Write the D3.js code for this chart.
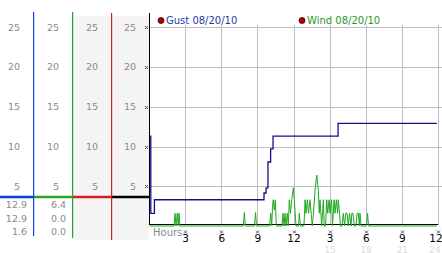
<!DOCTYPE html>
<html>
<head>
<meta charset="utf-8">
<script src="https://cdn.jsdelivr.net/npm/d3@7"></script>
<style>
  body { margin: 0; background: #fff; }
  svg { display: block; font-family: "DejaVu Sans", sans-serif; }
</style>
</head>
<body>
<div id="chart"></div>
<script>
// scale ticks
const yTicks = [5, 10, 15, 20, 25];
const hourTicks = [3, 6, 9, 12, 15, 18, 21, 24];
const hourLabels = ["3", "6", "9", "12", "3", "6", "9", "12"];
const hourLabels24 = ["", "", "", "", "15", "18", "21", "24"];

// gust (step line), hours -> mph
const gustHours = [0.05, 0.15, 0.45, 9.55, 9.72, 9.88, 10.1, 10.3, 15.7, 23.9];
const gustSpeeds = [11.3, 1.6, 3.3, 4.15, 4.8, 8.05, 9.7, 11.3, 12.9, 12.9];

// wind readings
const windHours = [0.05, 2.08, 2.16, 2.24, 2.35, 2.43, 2.49, 2.57,
  7.83, 7.92, 8.0, 8.76, 8.85, 8.93,
  10.01, 10.11, 10.19, 10.26, 10.32, 10.41, 10.49, 10.57,
  11.05, 11.13, 11.21, 11.30, 11.38, 11.49, 11.57, 11.65, 11.75, 11.85, 11.99, 12.07, 12.14, 12.21,
  12.42, 12.48, 12.58,
  12.87, 12.96, 13.04, 13.15, 13.25, 13.37, 13.47, 13.56, 13.66, 13.79, 13.93, 14.06, 14.14, 14.20, 14.34, 14.48, 14.55,
  14.66, 14.76, 14.84, 14.95, 15.03, 15.16, 15.24, 15.37, 15.45, 15.56, 15.66, 15.72, 15.82, 15.90,
  16.03, 16.14, 16.24, 16.34, 16.45, 16.55, 16.65, 16.78, 16.84, 16.94, 17.05, 17.19, 17.28, 17.38, 17.47, 17.52, 17.61,
  18.06, 18.15, 18.23, 23.9];
const windSpeeds = [0, 0, 1.6, 0, 1.6, 0, 1.6, 0,
  0, 1.7, 0, 0, 1.7, 0,
  0, 1.6, 0, 2.6, 3.3, 2.0, 3.3, 0,
  0, 1.6, 0, 1.6, 0, 1.6, 0, 3.3, 1.6, 3.3, 4.8, 3.3, 1.6, 0,
  0, 1.6, 0,
  0, 3.3, 1.6, 3.3, 1.6, 3.3, 1.6, 0, 1.6, 4.5, 6.4, 4.5, 1.6, 3.3, 0, 3.3, 0,
  0, 3.3, 1.6, 3.3, 1.6, 3.3, 0, 3.3, 1.6, 3.3, 1.6, 3.3, 1.6, 0,
  0, 1.6, 0, 1.6, 1.6, 0, 1.6, 0, 1.6, 1.6, 0, 0, 1.6, 1.6, 0, 1.6, 0,
  0, 1.6, 0, 0];

// side panel readouts
const gustStats = ["12.9", "12.9", "1.6"];
const windStats = ["6.4", "0.0", "0.0"];
const markLevel = 3.65;

const W = 442, H = 253;
const svg = d3.select("#chart").append("svg").attr("width", W).attr("height", H);

const x = d3.scaleLinear().domain([0, 24]).range([149, 438]);
const y = d3.scaleLinear().domain([0, 25]).range([226, 27.25]);

// panels
const cols = [
  { x0: 0, x1: 33, color: "#0a40d8", top: 12, bot: 236 },
  { x0: 33, x1: 72, color: "#22a622", top: 12, bot: 238 },
  { x0: 72, x1: 111, color: "#d02020", top: 13, bot: 240 },
  { x0: 111, x1: 149, color: "#000", top: 13, bot: 240 }
];
svg.append("rect").attr("x", 72).attr("y", 16).attr("width", 77).attr("height", 224).attr("fill", "#f4f4f4");

cols.forEach(c => {
  svg.selectAll(null).data(yTicks).enter().append("text")
    .attr("x", c.x1 - 13).attr("y", d => y(d)).attr("dy", "0.35em")
    .attr("text-anchor", "end").attr("font-size", 9.5).attr("fill", "#8a8a8a")
    .text(d => d);
  svg.append("line").attr("x1", c.x0).attr("x2", c.x1)
    .attr("y1", y(markLevel)).attr("y2", y(markLevel))
    .attr("stroke", c.color).attr("stroke-width", 2.5);
});
cols.slice(0, 3).forEach(c => {
  svg.append("rect").attr("x", c.x1).attr("y", c.top)
    .attr("width", 1.2).attr("height", c.bot - c.top).attr("fill", c.color);
});

[gustStats, windStats].forEach((stats, i) => {
  svg.selectAll(null).data(stats).enter().append("text")
    .attr("x", [27, 66][i]).attr("y", (d, j) => 205 + j * 13.5).attr("dy", "0.35em")
    .attr("text-anchor", "end").attr("font-size", 9.5).attr("fill", "#8a8a8a")
    .text(d => d);
});

// grid
svg.append("g").selectAll("line").data(yTicks).enter().append("line")
  .attr("x1", 149).attr("x2", 442)
  .attr("y1", d => Math.round(y(d)) + 0.5).attr("y2", d => Math.round(y(d)) + 0.5)
  .attr("stroke", "#bdbdbd");
svg.append("g").selectAll("line").data(hourTicks).enter().append("line")
  .attr("x1", d => Math.round(x(d)) + 0.5).attr("x2", d => Math.round(x(d)) + 0.5)
  .attr("y1", 25).attr("y2", 225)
  .attr("stroke", "#bdbdbd");

// axes
svg.append("line").attr("x1", 149.5).attr("x2", 149.5).attr("y1", 13).attr("y2", 225)
  .attr("stroke", "#000");
svg.append("line").attr("x1", 149).attr("x2", 438).attr("y1", 224.5).attr("y2", 224.5)
  .attr("stroke", "#000");

// small tick glyphs
const mark = "M-1.5,-1.5L1.5,1.5M1.5,-1.5L-1.5,1.5";
svg.selectAll(null).data(yTicks).enter().append("path")
  .attr("transform", d => `translate(146.5,${Math.round(y(d)) + 0.5})`)
  .attr("d", mark).attr("stroke", "#444").attr("stroke-width", 0.9);
svg.selectAll(null).data(hourTicks).enter().append("path")
  .attr("transform", d => `translate(${Math.round(x(d)) + 0.5},232)`)
  .attr("d", mark).attr("stroke", "#444").attr("stroke-width", 0.9);

svg.selectAll(null).data(hourTicks).enter().append("text")
  .attr("x", d => Math.min(x(d) + 0.5, 436)).attr("y", 242)
  .attr("text-anchor", "middle").attr("font-size", 10.5).attr("fill", "#000")
  .text((d, i) => hourLabels[i]);
svg.selectAll(null).data(hourTicks).enter().append("text")
  .attr("x", d => Math.min(x(d) + 0.5, 435)).attr("y", 252.5)
  .attr("text-anchor", "middle").attr("font-size", 9).attr("fill", "#dcdcdc")
  .text((d, i) => hourLabels24[i]);
svg.append("text").attr("x", 153).attr("y", 236)
  .attr("font-size", 10).attr("fill", "#8a8a8a").text("Hours");

// series
const windLine = d3.line().x(d => x(d[0])).y(d => y(d[1]));
svg.append("path")
  .datum(windHours.map((h, i) => [h, windSpeeds[i]]))
  .attr("d", windLine).attr("fill", "none").attr("stroke", "#1fa81f").attr("stroke-width", 1);

const gustLine = d3.line().x(d => x(d[0])).y(d => y(d[1])).curve(d3.curveStepAfter);
svg.append("path")
  .datum(gustHours.map((h, i) => [h, gustSpeeds[i]]))
  .attr("d", gustLine).attr("fill", "none").attr("stroke", "#10108c").attr("stroke-width", 1.3);

// legend
const legend = [
  { name: "Gust 08/20/10", color: "#1f3aa8", x: 161 },
  { name: "Wind 08/20/10", color: "#1f9a1f", x: 302 }
];
legend.forEach(l => {
  svg.append("circle").attr("cx", l.x).attr("cy", 20.5).attr("r", 3)
    .attr("fill", "#b00000").attr("stroke", "#300").attr("stroke-width", 0.8);
  svg.append("text").attr("x", l.x + 5).attr("y", 24)
    .attr("font-size", 10).attr("fill", l.color).text(l.name);
});
</script>
</body>
</html>
